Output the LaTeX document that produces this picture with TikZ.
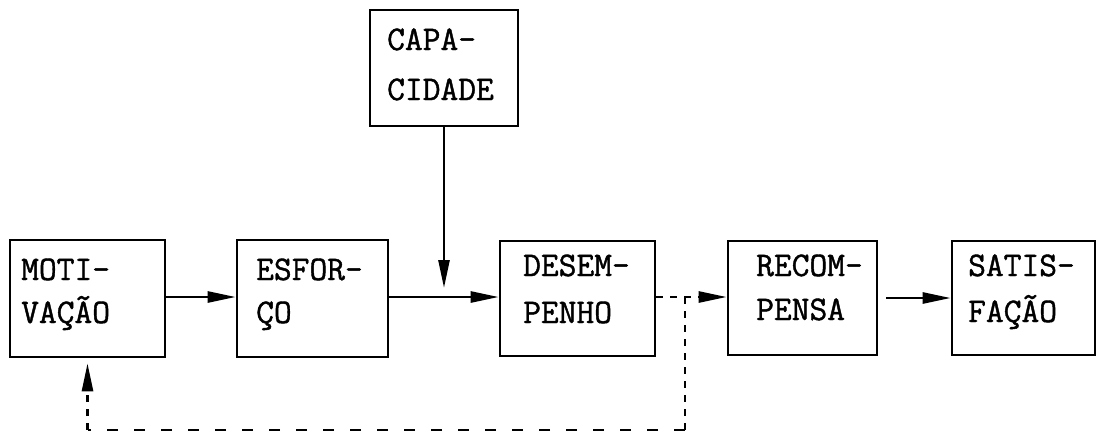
\documentclass[tikz,border=0pt]{standalone}
\usepackage{fontspec}
\newfontfamily\tw{Latin Modern Mono}[FakeBold=1.2]
\usetikzlibrary{arrows.meta}
\begin{document}
\begin{tikzpicture}[x=1pt,y=-1pt,
  box/.style={draw,line width=2.6pt,inner sep=0pt},
  txt/.style={anchor=base west,inner sep=0pt,font=\fontsize{34.5}{34.5}\tw},
  tip/.style={-{Triangle[length=28pt,width=11pt]}},
  link/.style={line width=2.6pt},
  densedash/.style={line width=2.6pt,dash pattern=on 7pt off 7pt},
  sparsedash/.style={line width=2.6pt,dash pattern=on 11pt off 16pt}]
\clip (0,0) rectangle (1096,434);
% boxes
\node[box,minimum width=155pt,minimum height=117pt] (mot) at (87.5,298.5) {};
\node[box,minimum width=151pt,minimum height=117pt] (esf) at (312.5,298.5) {};
\node[box,minimum width=155pt,minimum height=115pt] (des) at (577.5,298.5) {};
\node[box,minimum width=149pt,minimum height=114pt] (rec) at (802.5,298) {};
\node[box,minimum width=143pt,minimum height=114pt] (sat) at (1023.5,298) {};
\node[box,minimum width=148pt,minimum height=116pt] (cap) at (444,68) {};
% texts
\node[txt] (t1a) at (21,280) {MOTI-};
\node[txt] (t1b) at (21,323) {VAÇÃO};
\node[txt] (t2a) at (256,280) {ESFOR-};
\node[txt] (t2b) at (256,323) {ÇO};
\node[txt] (t3a) at (523,276) {DESEM-};
\node[txt] (t3b) at (523,323) {PENHO};
\node[txt] (t4a) at (756,276) {RECOM-};
\node[txt] (t4b) at (756,320) {PENSA};
\node[txt] (t5a) at (968,276) {SATIS-};
\node[txt] (t5b) at (968,322) {FAÇÃO};
\node[txt] (t6a) at (387,50) {CAPA-};
\node[txt] (t6b) at (387,100) {CIDADE};
% connectors
\coordinate (captip) at (444,288);
\coordinate (j1) at (685,297);
\coordinate (jb) at (685,430);
\draw[link,tip] (mot.east |- 0,297) -- (esf.west |- 0,297);
\draw[link,tip] (esf.east |- 0,297) -- (des.west |- 0,297);
\draw[link,tip] (cap.south) -- (captip);
\draw[link,tip] ([xshift=8pt]rec.east |- 0,298) -- (sat.west |- 0,298);
\draw[densedash,tip] (des.east |- 0,297) -- (rec.west |- 0,297);
\draw[densedash] (j1) -- (jb);
\draw[sparsedash] (jb) -- (mot.south |- jb);
\draw[densedash,tip,shorten >=5pt] (mot.south |- jb) -- (mot.south);
\end{tikzpicture}
\end{document}
